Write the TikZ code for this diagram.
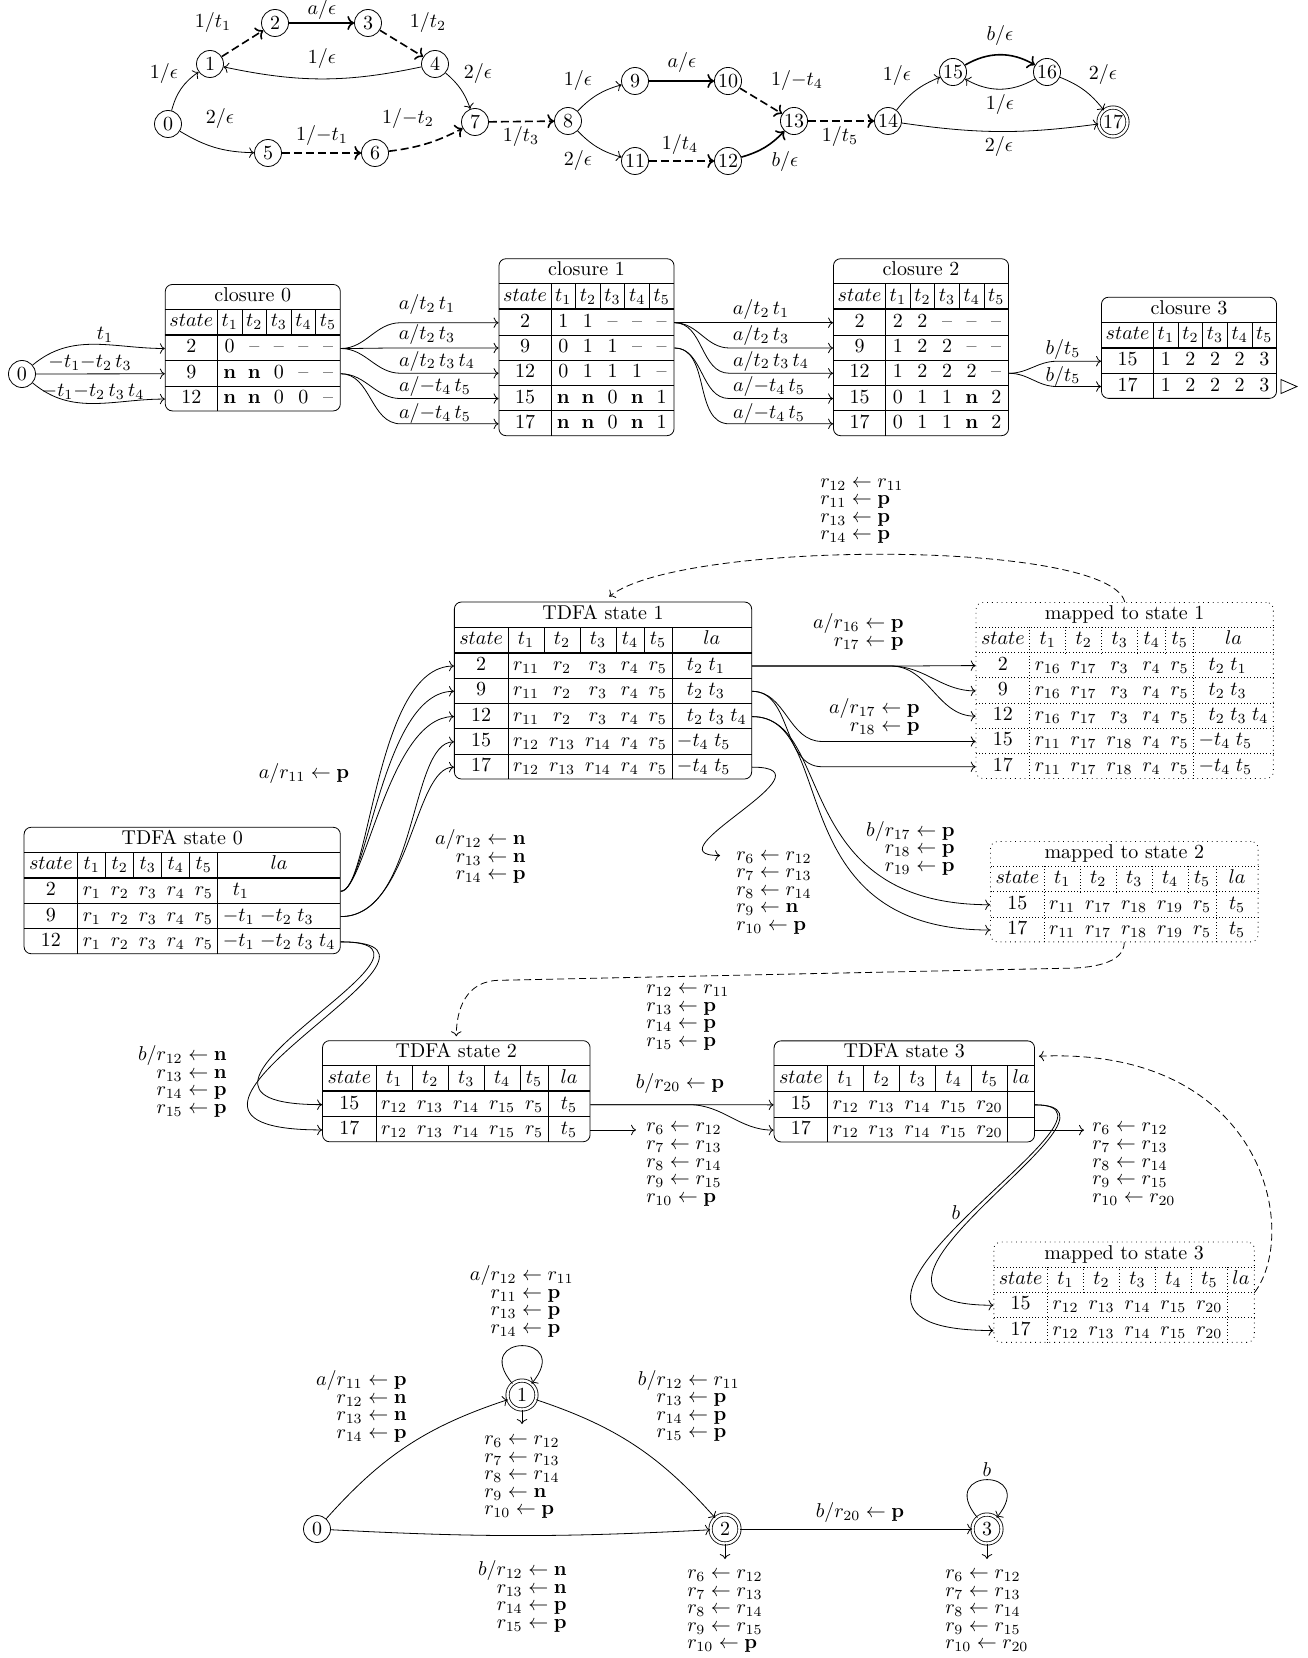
\documentclass[tikz,border=0pt]{standalone}
\usepackage{amsmath,amssymb}
\usepackage{arydshln}
\usetikzlibrary{arrows.meta,positioning,calc}

\setlength{\tabcolsep}{2.5pt}
\renewcommand{\arraystretch}{1.02}
\setlength{\doublerulesep}{0pt}
\setlength{\dashlinedash}{0.4pt}
\setlength{\dashlinegap}{1.2pt}

\newcommand{\thd}[1]{\multicolumn{1}{c|}{$#1$}}
\newcommand{\mhd}[1]{\multicolumn{1}{c:}{$#1$}}
\newcommand{\nb}{\textbf{n}}
\newcommand{\regs}[5]{$r_{#1}$ & $r_{#2}$ & $r_{#3}$ & $r_{#4}$ & $r_{#5}$}
\newcommand{\closurehead}{$state$ & \thd{t_1} & \thd{t_2} & \thd{t_3} & \thd{t_4} & $t_5$}
\newcommand{\tdfahead}{$state$ & \thd{t_1} & \thd{t_2} & \thd{t_3} & \thd{t_4} & \thd{t_5} & \multicolumn{1}{c}{$la$}}
\newcommand{\maphead}{$state$ & \mhd{t_1} & \mhd{t_2} & \mhd{t_3} & \mhd{t_4} & \mhd{t_5} & \multicolumn{1}{c}{$la$}}
\newcommand{\lat}{\makebox[16pt]{$t_5$}}
\newcommand{\op}[2]{#1 & {}\leftarrow #2}
\newcommand{\asgn}[1]{$\renewcommand{\arraystretch}{0.73}\begin{array}{@{}r@{}l@{}}#1\end{array}$}
\newcommand{\asgnl}[1]{$\renewcommand{\arraystretch}{0.73}\begin{array}{@{}l@{}}#1\end{array}$}
% coordinates at the left/right end of each data row of a table node
\newcommand{\rowpins}[3]{%
  \foreach \s [count=\k] in {#3}{
    \coordinate (#1-\s-w) at ($(#1.south west)+(0pt,{6.12pt+(#2-\k)*12.64pt})$);
    \coordinate (#1-\s-e) at ($(#1.south east)+(0pt,{6.12pt+(#2-\k)*12.64pt})$);
  }}

\begin{document}
\begin{tikzpicture}[x=0.5pt,y=0.5pt,
  st/.style={circle,draw,inner sep=0.5pt,minimum size=13.5pt},
  acc/.style={st,double,double distance=1.2pt,minimum size=14.5pt},
  tagedge/.style={->,thick,dash pattern=on 4pt off 2pt},
  symedge/.style={->,thick},
  tbl/.style={draw,rounded corners=3.5pt,inner sep=0pt},
  mapped/.style={draw,dotted,rounded corners=3.5pt,inner sep=0pt},
  back/.style={->,dash pattern=on 3.5pt off 2pt},
  fan/.style 2 args={out=0,in=180,out looseness=#1,in looseness=#2},
  ops/.style={inner sep=1pt}]
\useasboundingbox (0,0) rectangle (1307,-1658);

% tagged NFA
\node[st] (n0) at (168,-124) {0};
\node[st] (n1) at (210,-64) {1};
\node[st] (n2) at (275,-23) {2};
\node[st] (n3) at (368,-23) {3};
\node[st] (n4) at (435,-64) {4};
\node[st] (n5) at (268,-153) {5};
\node[st] (n6) at (375,-153) {6};
\node[st] (n7) at (475,-122) {7};
\node[st] (n8) at (568,-121) {8};
\node[st] (n9) at (635,-81) {9};
\node[st] (n10) at (728,-81) {10};
\node[st] (n11) at (635,-161) {11};
\node[st] (n12) at (728,-161) {12};
\node[st] (n13) at (794,-121) {13};
\node[st] (n14) at (888,-121) {14};
\node[st] (n15) at (953,-72) {15};
\node[st] (n16) at (1047,-72) {16};
\node[acc] (n17) at (1113,-122) {17};

\draw[->] (n0) to[bend left=20] (n1);
\draw[tagedge] (n1) -- (n2);
\draw[symedge] (n2) -- (n3);
\draw[tagedge] (n3) -- (n4);
\draw[->] (n4) to[bend left=12] (n1);
\draw[->] (n4) to[bend left=15] (n7);
\draw[->] (n0) to[bend right=15] (n5);
\draw[tagedge] (n5) -- (n6);
\draw[tagedge] (n6) to[bend right=10] (n7);
\draw[tagedge] (n7) -- (n8);
\draw[->] (n8) to[bend left=15] (n9);
\draw[symedge] (n9) -- (n10);
\draw[tagedge] (n10) -- (n13);
\draw[->] (n8) to[bend right=15] (n11);
\draw[tagedge] (n11) -- (n12);
\draw[symedge] (n12) to[bend right=15] (n13);
\draw[tagedge] (n13) -- (n14);
\draw[->] (n14) to[bend left=15] (n15);
\draw[symedge] (n15) to[bend left=30] (n16);
\draw[->] (n16) to[bend left=30] (n15);
\draw[->] (n16) to[bend left=15] (n17);
\draw[->] (n14) to[bend right=8] (n17);

\node (e01) at (164,-74) {$1/\epsilon$};
\node (e12) at (213,-23) {$1/t_1$};
\node (e23) at (322,-10) {$a/\epsilon$};
\node (e34) at (428,-23) {$1/t_2$};
\node (e41) at (322,-59) {$1/\epsilon$};
\node (e47) at (478,-74) {$2/\epsilon$};
\node (e05) at (220,-119) {$2/\epsilon$};
\node (e56) at (322,-136) {$1/{-t_1}$};
\node (e67) at (408,-119) {$1/{-t_2}$};
\node (e78) at (521,-137) {$1/t_3$};
\node (e89) at (578,-81) {$1/\epsilon$};
\node (e910) at (682,-63) {$a/\epsilon$};
\node (e1013) at (797,-81) {$1/{-t_4}$};
\node (e811) at (578,-161) {$2/\epsilon$};
\node (e1112) at (680,-145) {$1/t_4$};
\node (e1213) at (785,-162) {$b/\epsilon$};
\node (e1314) at (840,-137) {$1/t_5$};
\node (e1415) at (897,-76) {$1/\epsilon$};
\node (e1516) at (1000,-36) {$b/\epsilon$};
\node (e1615) at (1000,-105) {$1/\epsilon$};
\node (e1617) at (1103,-75) {$2/\epsilon$};
\node (e1417) at (999,-147) {$2/\epsilon$};

% epsilon-closures
\node[st] (q0) at (22,-374) {0};
\node[tbl] (c0) at (252.8,-347.7) {\setlength{\tabcolsep}{2.1pt}\begin{tabular}{c|ccccc}
  \multicolumn{6}{c}{closure 0}\\ \hline
  \closurehead\\ \hline\hline
  2 & 0 & -- & -- & -- & --\\ \hline
  9 & \nb & \nb & 0 & -- & --\\ \hline
  12 & \nb & \nb & 0 & 0 & --
\end{tabular}};
\node[tbl] (c1) at (586.5,-347.2) {\setlength{\tabcolsep}{2.1pt}\begin{tabular}{c|ccccc}
  \multicolumn{6}{c}{closure 1}\\ \hline
  \closurehead\\ \hline\hline
  2 & 1 & 1 & -- & -- & --\\ \hline
  9 & 0 & 1 & 1 & -- & --\\ \hline
  12 & 0 & 1 & 1 & 1 & --\\ \hline
  15 & \nb & \nb & 0 & \nb & 1\\ \hline
  17 & \nb & \nb & 0 & \nb & 1
\end{tabular}};
\node[tbl] (c2) at (921,-347.2) {\setlength{\tabcolsep}{2.1pt}\begin{tabular}{c|ccccc}
  \multicolumn{6}{c}{closure 2}\\ \hline
  \closurehead\\ \hline\hline
  2 & 2 & 2 & -- & -- & --\\ \hline
  9 & 1 & 2 & 2 & -- & --\\ \hline
  12 & 1 & 2 & 2 & 2 & --\\ \hline
  15 & 0 & 1 & 1 & \nb & 2\\ \hline
  17 & 0 & 1 & 1 & \nb & 2
\end{tabular}};
\node[tbl] (c3) at (1189,-347.8) {\setlength{\tabcolsep}{2.1pt}\begin{tabular}{c|ccccc}
  \multicolumn{6}{c}{closure 3}\\ \hline
  \closurehead\\ \hline\hline
  15 & 1 & 2 & 2 & 2 & 3\\ \hline
  17 & 1 & 2 & 2 & 2 & 3
\end{tabular}};
\rowpins{c0}{3}{2,9,12}
\rowpins{c1}{5}{2,9,12,15,17}
\rowpins{c2}{5}{2,9,12,15,17}
\rowpins{c3}{2}{15,17}

\draw[->] (q0) to[out=40,in=180] (c0-2-w);
\draw[->] (q0) -- (c0-9-w);
\draw[->] (q0) to[out=-40,in=180] (c0-12-w);
\foreach \t in {2,9,12} \draw[->] (c0-2-e) to[out=0,in=180] ($(c0-2-e |- c1-\t-w)+(60,0)$) -- (c1-\t-w);
\foreach \t in {15,17} \draw[->] (c0-9-e) to[out=0,in=180] ($(c0-9-e |- c1-\t-w)+(60,0)$) -- (c1-\t-w);
\foreach \t in {2,9,12} \draw[->] (c1-2-e) to[out=0,in=180] ($(c1-2-e |- c2-\t-w)+(55,0)$) -- (c2-\t-w);
\foreach \t in {15,17} \draw[->] (c1-9-e) to[out=0,in=180] ($(c1-9-e |- c2-\t-w)+(55,0)$) -- (c2-\t-w);
\foreach \t in {15,17} \draw[->] (c2-12-e) to[out=0,in=180] ($(c2-12-e |- c3-\t-w)+(48,0)$) -- (c3-\t-w);
\draw ($(c3-17-e)+(4,7)$) -- ++(16,-7) -- ++(-16,-7) -- cycle;

\node (k1) at (105,-335) {$t_1$};
\node (k2) at (90,-363) {$-t_1{-t_2}\,t_3$};
\node (k3) at (93,-392) {$-t_1{-t_2}\,t_3\,t_4$};
\node (k4) at (427,-305) {$a/t_2\,t_1$};
\node (k5) at (427,-335) {$a/t_2\,t_3$};
\node (k6) at (437,-361) {$a/t_2\,t_3\,t_4$};
\node (k7) at (435,-387) {$a/{-t_4}\,t_5$};
\node (k8) at (435,-413) {$a/{-t_4}\,t_5$};
\node (k9) at (761,-310) {$a/t_2\,t_1$};
\node (k10) at (761,-336) {$a/t_2\,t_3$};
\node (k11) at (771,-361) {$a/t_2\,t_3\,t_4$};
\node (k12) at (769,-387) {$a/{-t_4}\,t_5$};
\node (k13) at (769,-413) {$a/{-t_4}\,t_5$};
\node (k14) at (1063,-350) {$b/t_5$};
\node (k15) at (1063,-376) {$b/t_5$};

% TDFA states and mapped closures
\node[tbl] (d0) at (182.2,-890.5) {\begin{tabular}{c|ccccc|l}
  \multicolumn{7}{c}{TDFA state 0}\\ \hline
  \tdfahead\\ \hline\hline
  2 & \regs{1}{2}{3}{4}{5} & \hspace{5pt}$t_1$\\ \hline
  9 & \regs{1}{2}{3}{4}{5} & $-t_1\;{-t_2}\;t_3$\\ \hline
  12 & \regs{1}{2}{3}{4}{5} & $-t_1\;{-t_2}\;t_3\;t_4$
\end{tabular}};
\node[tbl] (d1) at (603,-690.5) {\begin{tabular}{c|ccccc|l}
  \multicolumn{7}{c}{TDFA state 1}\\ \hline
  \tdfahead\\ \hline\hline
  2 & \regs{11}{2}{3}{4}{5} & \hspace{5pt}$t_2\;t_1$\\ \hline
  9 & \regs{11}{2}{3}{4}{5} & \hspace{5pt}$t_2\;t_3$\\ \hline
  12 & \regs{11}{2}{3}{4}{5} & \hspace{5pt}$t_2\;t_3\;t_4$\\ \hline
  15 & \regs{12}{13}{14}{4}{5} & $-t_4\;t_5$\\ \hline
  17 & \regs{12}{13}{14}{4}{5} & $-t_4\;t_5$
\end{tabular}};
\node[mapped] (m1) at (1124.7,-690.5) {\begin{tabular}{c:ccccc:l}
  \multicolumn{7}{c}{mapped to state 1}\\ \hdashline
  \maphead\\ \hdashline
  2 & \regs{16}{17}{3}{4}{5} & \hspace{5pt}$t_2\;t_1$\\ \hdashline
  9 & \regs{16}{17}{3}{4}{5} & \hspace{5pt}$t_2\;t_3$\\ \hdashline
  12 & \regs{16}{17}{3}{4}{5} & \hspace{5pt}$t_2\;t_3\;t_4$\\ \hdashline
  15 & \regs{11}{17}{18}{4}{5} & $-t_4\;t_5$\\ \hdashline
  17 & \regs{11}{17}{18}{4}{5} & $-t_4\;t_5$
\end{tabular}};
\node[mapped] (m2) at (1124.3,-891.7) {\begin{tabular}{c:ccccc:c}
  \multicolumn{7}{c}{mapped to state 2}\\ \hdashline
  \maphead\\ \hdashline
  15 & \regs{11}{17}{18}{19}{5} & \lat\\ \hdashline
  17 & \regs{11}{17}{18}{19}{5} & \lat
\end{tabular}};
\node[tbl] (d2) at (456.3,-1091.2) {\begin{tabular}{c|ccccc|c}
  \multicolumn{7}{c}{TDFA state 2}\\ \hline
  \tdfahead\\ \hline\hline
  15 & \regs{12}{13}{14}{15}{5} & \lat\\ \hline
  17 & \regs{12}{13}{14}{15}{5} & \lat
\end{tabular}};
\node[tbl] (d3) at (904.3,-1091.4) {\begin{tabular}{c|ccccc|c}
  \multicolumn{7}{c}{TDFA state 3}\\ \hline
  \tdfahead\\ \hline\hline
  15 & \regs{12}{13}{14}{15}{20} & \\ \hline
  17 & \regs{12}{13}{14}{15}{20} &
\end{tabular}};
\node[mapped] (m3) at (1124.1,-1292.2) {\begin{tabular}{c:ccccc:c}
  \multicolumn{7}{c}{mapped to state 3}\\ \hdashline
  \maphead\\ \hdashline
  15 & \regs{12}{13}{14}{15}{20} & \\ \hdashline
  17 & \regs{12}{13}{14}{15}{20} &
\end{tabular}};
\rowpins{d0}{3}{2,9,12}
\rowpins{d1}{5}{2,9,12,15,17}
\rowpins{m1}{5}{2,9,12,15,17}
\rowpins{m2}{2}{15,17}
\rowpins{d2}{2}{15,17}
\rowpins{d3}{2}{15,17}
\rowpins{m3}{2}{15,17}

\node[ops,anchor=west] (o1) at (818,-510) {\asgn{\op{r_{12}}{r_{11}}\\ \op{r_{11}}{\mathbf{p}}\\ \op{r_{13}}{\mathbf{p}}\\ \op{r_{14}}{\mathbf{p}}}};
\node[ops] (o2) at (304,-773.5) {$a/r_{11}\leftarrow\mathbf{p}$};
\node[ops,anchor=east] (o3) at (528,-857.5) {\asgn{\op{a/r_{12}}{\mathbf{n}}\\ \op{r_{13}}{\mathbf{n}}\\ \op{r_{14}}{\mathbf{p}}}};
\node[ops,anchor=east] (o4) at (906,-632.5) {\asgn{\op{a/r_{16}}{\mathbf{p}}\\ \op{r_{17}}{\mathbf{p}}}};
\node[ops,anchor=east] (o5) at (922,-717.5) {\asgn{\op{a/r_{17}}{\mathbf{p}}\\ \op{r_{18}}{\mathbf{p}}}};
\node[ops,anchor=east] (o6) at (957,-849) {\asgn{\op{b/r_{17}}{\mathbf{p}}\\ \op{r_{18}}{\mathbf{p}}\\ \op{r_{19}}{\mathbf{p}}}};
\node[ops,anchor=west] (fin1) at (734,-891.7) {\asgnl{r_6\leftarrow r_{12}\\ r_7\leftarrow r_{13}\\ r_8\leftarrow r_{14}\\ r_9\leftarrow \mathbf{n}\\ r_{10}\leftarrow \mathbf{p}}};
\node[ops,anchor=west] (o8) at (644,-1016.7) {\asgn{\op{r_{12}}{r_{11}}\\ \op{r_{13}}{\mathbf{p}}\\ \op{r_{14}}{\mathbf{p}}\\ \op{r_{15}}{\mathbf{p}}}};
\node[ops,anchor=east] (o9) at (229,-1082) {\asgn{\op{b/r_{12}}{\mathbf{n}}\\ \op{r_{13}}{\mathbf{n}}\\ \op{r_{14}}{\mathbf{p}}\\ \op{r_{15}}{\mathbf{p}}}};
\node[ops] (o10) at (680,-1083.5) {$b/r_{20}\leftarrow\mathbf{p}$};
\node[ops,anchor=west] (fin2) at (644,-1163.5) {\asgnl{r_6\leftarrow r_{12}\\ r_7\leftarrow r_{13}\\ r_8\leftarrow r_{14}\\ r_9\leftarrow r_{15}\\ r_{10}\leftarrow \mathbf{p}}};
\node[ops,anchor=west] (fin3) at (1090,-1163.5) {\asgnl{r_6\leftarrow r_{12}\\ r_7\leftarrow r_{13}\\ r_8\leftarrow r_{14}\\ r_9\leftarrow r_{15}\\ r_{10}\leftarrow r_{20}}};
\node[ops] (o11) at (956,-1213) {$b$};
\coordinate (fin1in) at ($(fin1.north west)+(0,-10)$);

\foreach \t in {2,9,12} \draw[->] (d0-2-e) to[fan={0.3}{0.8}] (d1-\t-w);
\foreach \t in {15,17} \draw[->] (d0-9-e) to[fan={0.95}{0.55}] (d1-\t-w);
\foreach \t in {15,17} \draw[->] (d0-12-e) to[fan={2.2}{3.2}] (d2-\t-w);
\foreach \t in {2,9,12} \draw[->] (d1-2-e) -- ($(d1-2-e -| m1-\t-w)+(-85,0)$) to[out=0,in=180] (m1-\t-w);
\foreach \t in {15,17} \draw[->] (d1-9-e) to[out=0,in=180] ($(d1-9-e |- m1-\t-w)+(70,0)$) -- (m1-\t-w);
\foreach \t in {15,17} \draw[->] (d1-12-e) to[fan={0.7}{1.7}] (m2-\t-w);
\draw[->,shorten >=7pt] (d1-17-e) to[out=0,in=180,looseness=2.5] (fin1in);
\foreach \t in {15,17} \draw[->] (d2-15-e) -- ($(d2-15-e -| d3-\t-w)+(-85,0)$) to[out=0,in=180] (d3-\t-w);
\draw[->,shorten >=4pt] (d2-17-e) -- (d2-17-e -| fin2.west);
\draw[->] (d3-15-e) to[fan={1.5}{2.5}] (m3-15-w);
\draw[->] (d3-15-e) to[fan={1.35}{2.8}] (m3-17-w);
\draw[->,shorten >=3pt] (d3-17-e) -- (d3-17-e -| fin3.west);

\draw[back,shorten >=4pt] (m1.north) .. controls +(-15,63) and +(77,62) .. (d1.north);
\draw[back,shorten >=2pt] (m2.south) .. controls +(0,-22) and +(25,0) .. ++(-60,-26)
  -- ++(-564,-12) .. controls +(-35,0) and +(0,30) .. (d2.north);
\draw[back,shorten >=2pt] (m3.east) .. controls +(45,60) and +(230,10) .. (d3.15);

% resulting TDFA
\node[st] (b0) at (317,-1529) {0};
\node[acc] (b1) at (522,-1395) {1};
\node[acc] (b2) at (725,-1529) {2};
\node[acc] (b3) at (987,-1529) {3};
\coordinate (b1out) at (522,-1424);
\coordinate (b2out) at (725,-1559);
\coordinate (b3out) at (987,-1559);

\draw[->] (b0) to[bend left=15] (b1);
\draw[->] (b1) to[bend left=15] (b2);
\draw[->] (b0) to[bend right=3] (b2);
\draw[->] (b2) -- (b3);
\draw[->] (b1) to[out=130,in=50,looseness=8,min distance=33pt] (b1);
\draw[->] (b3) to[out=130,in=50,looseness=8,min distance=33pt] (b3);
\draw[->] (b1) -- (b1out);
\draw[->] (b2) -- (b2out);
\draw[->] (b3) -- (b3out);

\node[ops,anchor=east] (p01) at (409,-1407) {\asgn{\op{a/r_{11}}{\mathbf{p}}\\ \op{r_{12}}{\mathbf{n}}\\ \op{r_{13}}{\mathbf{n}}\\ \op{r_{14}}{\mathbf{p}}}};
\node[ops,anchor=east] (p02) at (569,-1597) {\asgn{\op{b/r_{12}}{\mathbf{n}}\\ \op{r_{13}}{\mathbf{n}}\\ \op{r_{14}}{\mathbf{p}}\\ \op{r_{15}}{\mathbf{p}}}};
\node[ops,anchor=east] (p12) at (742,-1406.5) {\asgn{\op{b/r_{12}}{r_{11}}\\ \op{r_{13}}{\mathbf{p}}\\ \op{r_{14}}{\mathbf{p}}\\ \op{r_{15}}{\mathbf{p}}}};
\node[ops,anchor=east] (p11) at (576,-1302) {\asgn{\op{a/r_{12}}{r_{11}}\\ \op{r_{11}}{\mathbf{p}}\\ \op{r_{13}}{\mathbf{p}}\\ \op{r_{14}}{\mathbf{p}}}};
\node[ops] (p23) at (860,-1512) {$b/r_{20}\leftarrow\mathbf{p}$};
\node[ops] (p33) at (987,-1470) {$b$};
\node[ops,anchor=west] (f1) at (482,-1476) {\asgnl{r_6\leftarrow r_{12}\\ r_7\leftarrow r_{13}\\ r_8\leftarrow r_{14}\\ r_9\leftarrow \mathbf{n}\\ r_{10}\leftarrow \mathbf{p}}};
\node[ops,anchor=west] (f2) at (685,-1610) {\asgnl{r_6\leftarrow r_{12}\\ r_7\leftarrow r_{13}\\ r_8\leftarrow r_{14}\\ r_9\leftarrow r_{15}\\ r_{10}\leftarrow \mathbf{p}}};
\node[ops,anchor=west] (f3) at (943,-1610) {\asgnl{r_6\leftarrow r_{12}\\ r_7\leftarrow r_{13}\\ r_8\leftarrow r_{14}\\ r_9\leftarrow r_{15}\\ r_{10}\leftarrow r_{20}}};
\end{tikzpicture}
\end{document}
